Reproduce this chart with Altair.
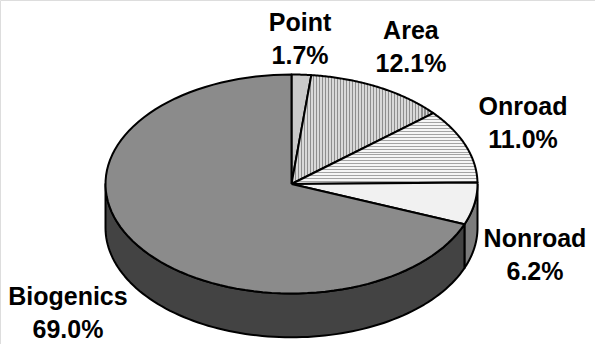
import altair as alt
import pandas as pd

# Emission sources and their share of the total (percent)
categories = ["Point", "Area", "Onroad", "Nonroad", "Biogenics"]
shares = [1.7, 12.1, 11.0, 6.2, 69.0]

# Label anchors in unit-ellipse coordinates (first-line baseline)
label_x = [0.046, 0.642, 1.245, 1.309, -1.202]
label_y = [1.397, 1.324, 0.630, -0.575, -1.105]

N = 90          # samples along each arc
DEPTH = 0.40    # wall height, in units of the vertical radius

slices = pd.DataFrame({"name": categories, "share": shares, "idx": list(range(len(categories)))})
labels = pd.DataFrame({"name": categories, "share": shares, "lx": label_x, "ly": label_y})

xs = alt.Scale(domain=[-1, 1], range=[105.5, 477.5])
ys = alt.Scale(domain=[-1, 1], range=[293.5, 74.5])


def stripes(dark, light, n, frac, vertical):
    stops = []
    for k in range(n):
        a, b, c = k / n, (k + frac) / n, (k + 1) / n
        stops += [
            alt.GradientStop(offset=a, color=dark),
            alt.GradientStop(offset=b, color=dark),
            alt.GradientStop(offset=b, color=light),
            alt.GradientStop(offset=c, color=light),
        ]
    if vertical:
        return alt.LinearGradient(gradient="linear", stops=stops, x1=0, y1=0, x2=1, y2=0)
    return alt.LinearGradient(gradient="linear", stops=stops, x1=0, y1=0, x2=0, y2=1)


top_fill = {
    "Point": "#c9c9c9",
    "Area": stripes("#8e8e8e", "#d9d9d9", 47, 0.42, True),
    "Onroad": stripes("#a4a4a4", "#f6f6f6", 24, 0.34, False),
    "Nonroad": "#f1f1f1",
    "Biogenics": "#8b8b8b",
}
wall_fill = {"Nonroad": "#7c7c7c", "Biogenics": "#434343"}

base = (
    alt.Chart(slices)
    .transform_joinaggregate(total="sum(share)")
    .transform_window(cum="sum(share)", sort=[alt.SortField("idx")], frame=[None, 0])
    .transform_calculate(
        a0="2*PI*(datum.cum - datum.share)/datum.total",
        a1="2*PI*datum.cum/datum.total",
    )
)

enc = dict(
    x=alt.X("px:Q", scale=xs, axis=None),
    y=alt.Y("py:Q", scale=ys, axis=None),
    order=alt.Order("step:Q"),
)

# top face: centre -> arc -> centre
top = (
    base.transform_calculate(step=f"sequence(0, {N + 3})")
    .transform_flatten(["step"])
    .transform_calculate(
        ang=f"datum.a0 + (datum.a1 - datum.a0) * clamp(datum.step - 1, 0, {N}) / {N}",
        rim=f"datum.step >= 1 && datum.step <= {N + 1} ? 1 : 0",
    )
    .transform_calculate(px="datum.rim * sin(datum.ang)", py="datum.rim * cos(datum.ang)")
)

# front wall: visible part of each slice between 90 and 270 degrees
wall = (
    base.transform_calculate(w0="max(datum.a0, PI/2)", w1="min(datum.a1, 3*PI/2)")
    .transform_filter("datum.w1 > datum.w0")
    .transform_calculate(step=f"sequence(0, {2 * N + 3})")
    .transform_flatten(["step"])
    .transform_calculate(
        t=f"datum.step <= {N} ? datum.step/{N} : (datum.step <= {2 * N + 1} ? 1 - (datum.step - {N + 1})/{N} : 0)",
        low=f"datum.step > {N} && datum.step <= {2 * N + 1} ? {DEPTH} : 0",
    )
    .transform_calculate(ang="datum.w0 + (datum.w1 - datum.w0) * datum.t")
    .transform_calculate(px="sin(datum.ang)", py="cos(datum.ang) - datum.low")
)

layers = []
for name, fill in wall_fill.items():
    layers.append(
        wall.transform_filter(alt.datum.name == name)
        .mark_line(fill=fill, stroke="black", strokeWidth=2, strokeJoin="round")
        .encode(**enc)
    )
for name in categories:
    layers.append(
        top.transform_filter(alt.datum.name == name)
        .mark_line(fill=top_fill[name], stroke="black", strokeWidth=2, strokeJoin="round")
        .encode(**enc)
    )

text = (
    alt.Chart(labels)
    .transform_calculate(txt="datum.name + '\\n' + format(datum.share, '.1f') + '%'")
    .mark_text(
        font="Liberation Sans",
        fontSize=25,
        fontWeight="bold",
        color="black",
        align="center",
        baseline="alphabetic",
        lineBreak="\n",
        lineHeight=33,
    )
    .encode(
        x=alt.X("lx:Q", scale=xs, axis=None),
        y=alt.Y("ly:Q", scale=ys, axis=None),
        text="txt:N",
    )
)
layers.append(text)

chart = (
    alt.layer(*layers)
    .properties(width=595, height=344, autosize=alt.AutoSizeParams(type="none"), padding=0)
    .configure_view(stroke=None)
    .configure(background="white")
)

chart.save("out.html", embed_options={"renderer": "svg", "actions": False})
